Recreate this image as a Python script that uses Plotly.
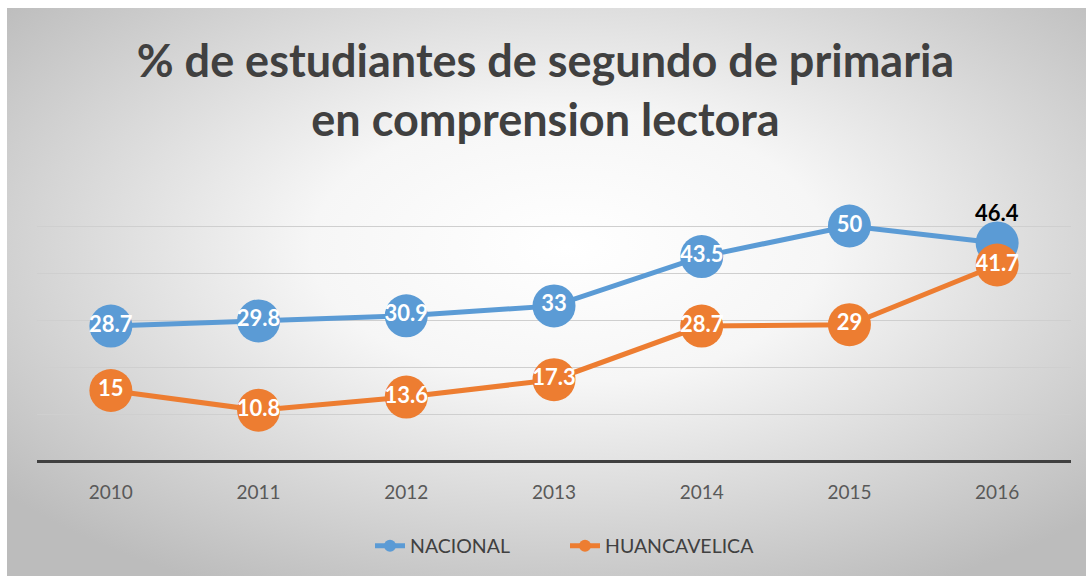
import base64
import plotly.graph_objects as go

years = ["2010", "2011", "2012", "2013", "2014", "2015", "2016"]
nacional = [28.7, 29.8, 30.9, 33, 43.5, 50, 46.4]
huancavelica = [15, 10.8, 13.6, 17.3, 28.7, 29, 41.7]
title_text = "% de estudiantes de segundo de primaria<br>en comprension lectora"

BLUE = "#5B9BD5"
ORANGE = "#ED7D31"
FONT = "Lato"

svg = ("<svg xmlns='http://www.w3.org/2000/svg' width='1079' height='568' viewBox='0 0 1079 568' "
       "preserveAspectRatio='none'><defs><radialGradient id='g' cx='0.52' cy='0.42' r='0.68'>"
       "<stop offset='0' stop-color='#ffffff'/><stop offset='0.35' stop-color='#f6f6f6'/>"
       "<stop offset='1' stop-color='#bcbcbc'/></radialGradient></defs>"
       "<rect width='1079' height='568' fill='url(#g)'/></svg>")
bg_src = "data:image/svg+xml;base64," + base64.b64encode(svg.encode()).decode()

n = len(years)
nac_text = [str(v) for v in nacional[:-1]] + [""]

fig = go.Figure()
fig.add_trace(go.Scatter(
    x=years, y=nacional, name="NACIONAL", mode="lines+markers+text",
    line=dict(color=BLUE, width=5), marker=dict(color=BLUE, size=43),
    text=nac_text, textposition="middle center",
    textfont=dict(family=FONT, size=22, color="white", weight="bold"),
    cliponaxis=False,
))
fig.add_trace(go.Scatter(
    x=years, y=huancavelica, name="HUANCAVELICA", mode="lines+markers+text",
    line=dict(color=ORANGE, width=5), marker=dict(color=ORANGE, size=43),
    text=[str(v) for v in huancavelica], textposition="middle center",
    textfont=dict(family=FONT, size=22, color="white", weight="bold"),
    cliponaxis=False,
))
fig.add_annotation(x=n - 1, y=nacional[-1], text=str(nacional[-1]), showarrow=False,
                   yshift=30, font=dict(family=FONT, size=22, color="black", weight="bold"))

L, R, T, B = 37, 20, 179, 117
W = 1091 - L - R
H = 578 - T - B

fig.add_layout_image(dict(
    source=bg_src, xref="paper", yref="paper",
    x=(7 - L) / W, y=(578 - B - 8) / H,
    sizex=(1086 - 7) / W, sizey=(576 - 8) / H,
    sizing="stretch", xanchor="left", yanchor="top", layer="below",
))

fig.update_layout(
    width=1091, height=578,
    margin=dict(l=L, r=R, t=T, b=B),
    paper_bgcolor="white", plot_bgcolor="rgba(0,0,0,0)",
    title=dict(text=title_text, x=0.5, xanchor="center", y=1 - 77 / 578, yanchor="middle",
               font=dict(family=FONT, size=45, color="#404040", weight="bold")),
    showlegend=True,
    legend=dict(orientation="h", x=(370 - L) / W, xanchor="left", y=(578 - B - 546) / H,
                yanchor="middle", font=dict(family=FONT, size=19.5, color="#404040"),
                itemsizing="constant", bgcolor="rgba(0,0,0,0)",
                entrywidth=150, entrywidthmode="pixels"),
    xaxis=dict(type="category", range=[-0.5, n - 0.5], showgrid=False, ticks="", showline=False,
               tickfont=dict(family=FONT, size=19, color="#595959"), ticklabelstandoff=18,
               fixedrange=True),
    yaxis=dict(range=[0, 60], dtick=10, showticklabels=False, showgrid=True,
               gridcolor="#cfcfcf", gridwidth=1, zeroline=True, zerolinecolor="#404040",
               zerolinewidth=3, showline=False, fixedrange=True),
)

fig.write_html("out.html", config={"displayModeBar": False},
               post_script="document.body.style.margin='0';document.body.style.padding='0';")
